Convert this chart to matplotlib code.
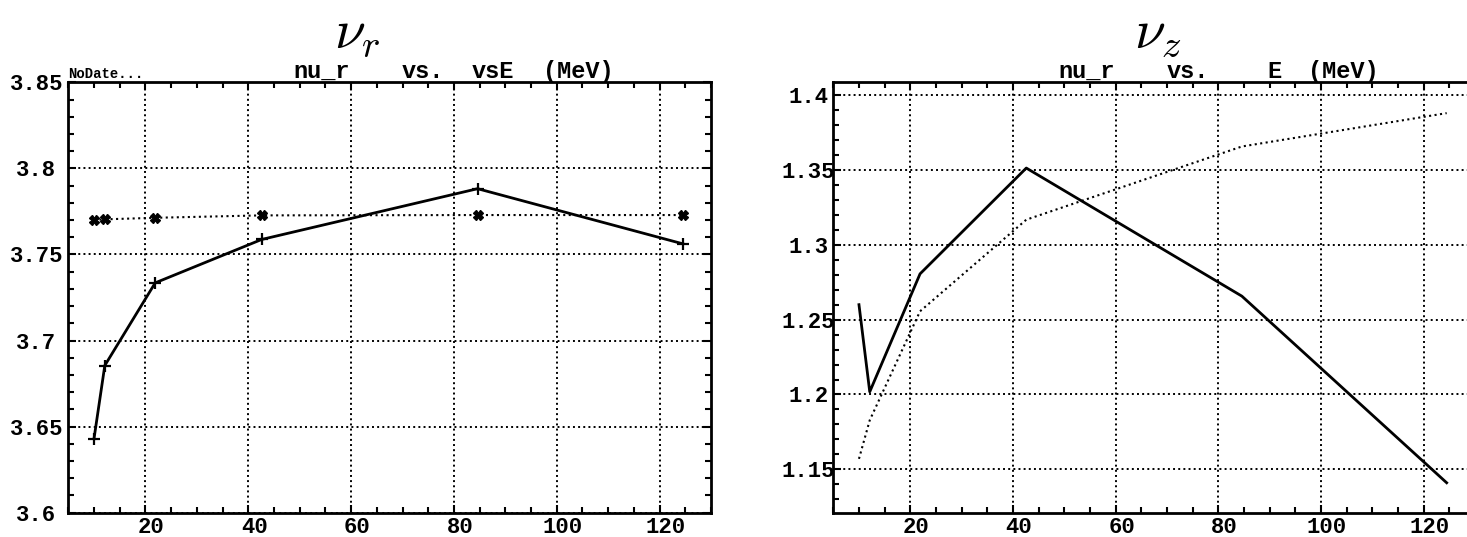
import matplotlib
matplotlib.use("Agg")
import matplotlib.pyplot as plt
import matplotlib.transforms as mtransforms
from matplotlib.ticker import FixedLocator, FixedFormatter, MultipleLocator

# values
energy = [10.0, 12.1, 21.9, 42.6, 84.6, 124.5]
nu_r_solid = [3.643, 3.6855, 3.7335, 3.7587, 3.7882, 3.7562]
nu_r_dotted = [3.7700, 3.7704, 3.7713, 3.7727, 3.7729, 3.7729]
nu_z_solid = [1.260, 1.2018, 1.2806, 1.3513, 1.2657, 1.141]
nu_z_dotted = [1.157, 1.1828, 1.2556, 1.3168, 1.3657, 1.388]

x_ticks = [20, 40, 60, 80, 100, 120]
x_labels = ["20", "40", "60", "80", "100", "120"]
r_ticks = [3.6, 3.65, 3.7, 3.75, 3.8, 3.85]
r_labels = ["3.6", "3.65", "3.7", "3.75", "3.8", "3.85"]
z_ticks = [1.15, 1.2, 1.25, 1.3, 1.35, 1.4]
z_labels = ["1.15", "1.2", "1.25", "1.3", "1.35", "1.4"]

plt.rcParams["mathtext.fontset"] = "cm"
mono = "Liberation Mono"

W, H = 1467, 537
fig = plt.figure(figsize=(W / 100, H / 100), dpi=100)
fig.patch.set_facecolor("white")

ax1 = fig.add_axes([68.3 / W, 1 - 512.7 / H, 642.7 / W, 430.4 / H])
ax2 = fig.add_axes([833.3 / W, 1 - 512.7 / H, 641.6 / W, 431.0 / H])

# left panel: nu_r
ax1.plot(energy, nu_r_solid, color="black", lw=2, marker="+", ms=9, mew=1.6)
ax1.plot(energy, nu_r_dotted, color="black", lw=1.5, ls=":", marker="X", ms=7)
ax1.set_ylim(3.6, 3.85)

# right panel: nu_z
ax2.plot(energy, nu_z_solid, color="black", lw=2)
ax2.plot(energy, nu_z_dotted, color="black", lw=1.5, ls=":")
ax2.set_ylim(1.121, 1.409)


def style(ax, yt, yl, ypad):
    ax.set_xlim(5, 130)
    ax.xaxis.set_major_locator(FixedLocator(x_ticks))
    ax.xaxis.set_major_formatter(FixedFormatter(x_labels))
    ax.xaxis.set_minor_locator(MultipleLocator(5))
    ax.yaxis.set_major_locator(FixedLocator(yt))
    ax.yaxis.set_major_formatter(FixedFormatter(yl))
    ax.yaxis.set_minor_locator(MultipleLocator(0.01))
    ax.grid(True, which="major", ls=":", color="black", lw=1.4)
    ax.tick_params(which="both", direction="in", top=True, right=True,
                   width=1.5, labelsize=16)
    ax.tick_params(which="major", length=6)
    ax.tick_params(which="minor", length=4)
    ax.tick_params(axis="x", pad=3)
    ax.tick_params(axis="y", pad=ypad)
    for s in ax.spines.values():
        s.set_linewidth(2)
    shift = mtransforms.ScaledTranslation(6 / 100, 0, fig.dpi_scale_trans)
    for lab in ax.get_xticklabels():
        lab.set_fontfamily(mono)
        lab.set_fontweight("bold")
        lab.set_transform(lab.get_transform() + shift)
    for lab in ax.get_yticklabels():
        lab.set_fontfamily(mono)
        lab.set_fontweight("bold")
        lab.set_ha("center")

    # header text above the frame, pieces placed like the original
    width_px = ax.get_position().width * W
    pieces = [(224.7, "nu_r"), (333.4, "vs."), (474.7, "(MeV)")]
    for off, txt in pieces:
        ax.text(off / width_px, 1, txt, transform=mtransforms.offset_copy(
            ax.transAxes, fig=fig, x=0, y=4, units="dots"),
            ha="left", va="baseline", fontfamily=mono, fontweight="bold",
            fontsize=17)
    return width_px


w1 = style(ax1, r_ticks, r_labels, 23)
w2 = style(ax2, z_ticks, z_labels, 18)

tr1 = mtransforms.offset_copy(ax1.transAxes, fig=fig, x=0, y=4, units="dots")
ax1.text(403.4 / w1, 1, "vsE", transform=tr1, ha="left", va="baseline",
         fontfamily=mono, fontweight="bold", fontsize=17)
ax1.text(0, 1, "NoDate...", transform=tr1, ha="left", va="baseline",
         fontfamily=mono, fontweight="bold", fontsize=10)
tr2 = mtransforms.offset_copy(ax2.transAxes, fig=fig, x=0, y=4, units="dots")
ax2.text(434.0 / w2, 1, "E", transform=tr2, ha="left", va="baseline",
         fontfamily=mono, fontweight="bold", fontsize=17)

fig.text(357 / W, 1 - 33 / H, r"$\nu_r$", ha="center", va="center", fontsize=40)
fig.text(1158 / W, 1 - 33 / H, r"$\nu_z$", ha="center", va="center", fontsize=40)

fig.savefig("out.png", dpi=100)
